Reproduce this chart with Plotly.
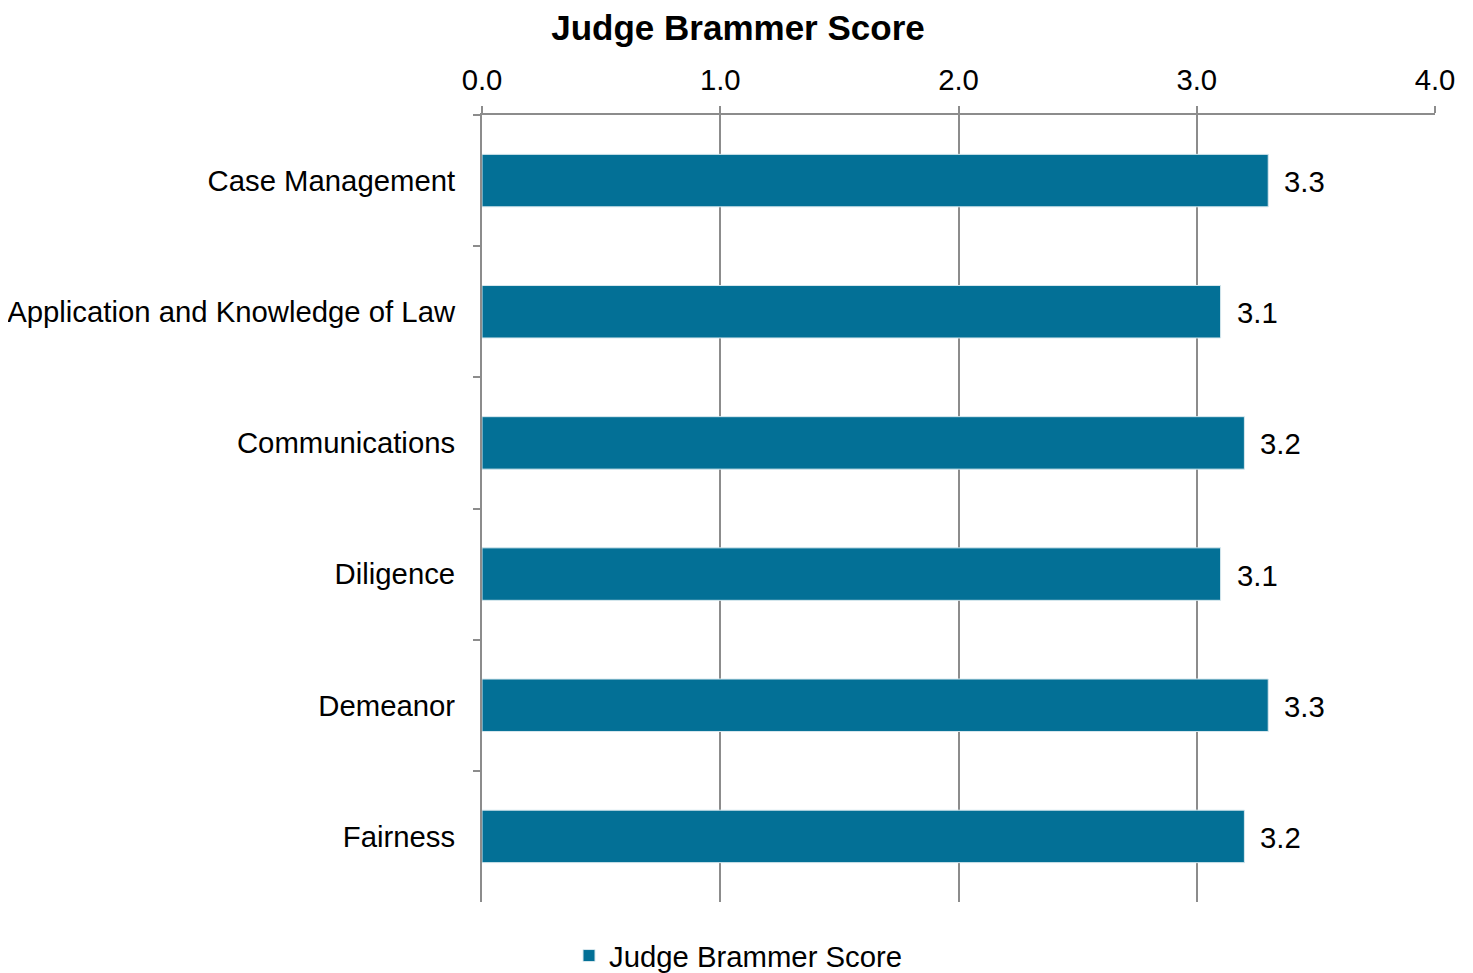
import plotly.graph_objects as go

categories = ["Case Management", "Application and Knowledge of Law", "Communications",
              "Diligence", "Demeanor", "Fairness"]
scores = [3.3, 3.1, 3.2, 3.1, 3.3, 3.2]
series_name = "Judge Brammer Score"
x_ticks = [0, 1, 2, 3, 4]
x_tick_labels = ["0.0", "1.0", "2.0", "3.0", "4.0"]

BAR = "#037096"
GRID = "#8c8c8c"
FONT = "Liberation Sans, Arial, sans-serif"
FS = 29.3

fig = go.Figure()
fig.add_trace(go.Bar(
    y=categories, x=scores, orientation="h", name=series_name,
    marker=dict(color=BAR, line=dict(color="#d8e8ee", width=1)),
    showlegend=True,
))

for c, v in zip(categories, scores):
    fig.add_annotation(x=v, y=c, text=f"{v:.1f}", showarrow=False,
                       xanchor="left", xshift=14, yshift=-1,
                       font=dict(family=FONT, size=FS, color="#000000"))

fig.update_layout(
    width=1473, height=973,
    paper_bgcolor="white", plot_bgcolor="white",
    margin=dict(l=474, r=46, t=107, b=79),
    bargap=0.6,
    font=dict(family=FONT, size=FS, color="#000000"),
    title=dict(text="<b>Judge Brammer Score</b>", x=730 / 1473, xref="container",
               xanchor="center", y=1 - 20 / 973, yanchor="middle",
               font=dict(family=FONT, size=35, color="#000000")),
    legend=dict(orientation="h", x=0.5 - 6 / 1473, xref="container", xanchor="center",
                y=1 - 948 / 973, yref="container", yanchor="middle",
                font=dict(family=FONT, size=FS, color="#000000"),
                itemwidth=30),
    xaxis=dict(side="top", range=[0, 4], tickvals=x_ticks, ticktext=x_tick_labels,
               showgrid=True, gridcolor=GRID, gridwidth=1.5,
               showline=True, linecolor=GRID, linewidth=2,
               ticks="outside", ticklen=7, tickcolor=GRID, tickwidth=1.5,
               ticklabelstandoff=4, zeroline=False, automargin=False,
               tickfont=dict(family=FONT, size=FS, color="#000000")),
    yaxis=dict(autorange="reversed", showgrid=False, showline=True, linecolor=GRID,
               linewidth=2, ticks="outside", ticklen=7, tickcolor=GRID, tickwidth=1.5,
               tickson="boundaries", ticklabelstandoff=19, automargin=False,
               tickfont=dict(family=FONT, size=FS, color="#000000")),
)

fig.write_html("out.html")
